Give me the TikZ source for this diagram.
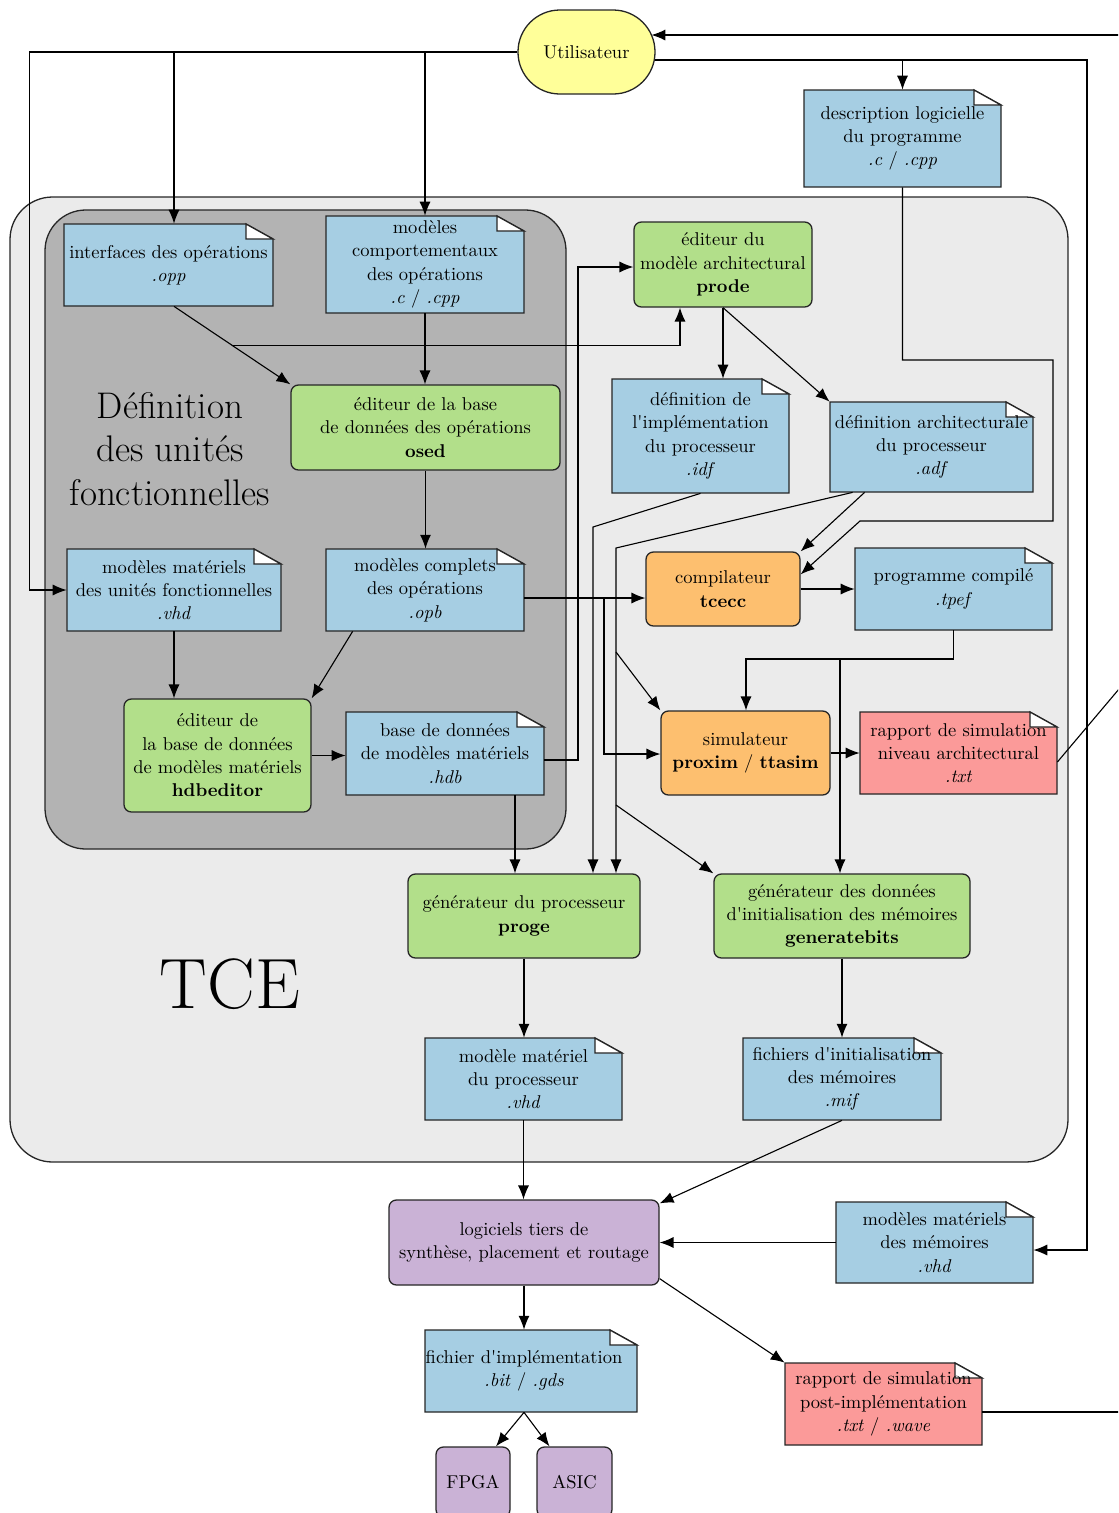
\documentclass[tikz,border=0pt]{standalone}
\usetikzlibrary{arrows.meta}
\def\pu{0.54pt}
\definecolor{cblue}{HTML}{A6CEE3}
\definecolor{cgreen}{HTML}{B2DF8A}
\definecolor{corange}{HTML}{FDBF6F}
\definecolor{cred}{HTML}{FB9A99}
\definecolor{cpurple}{HTML}{CAB2D6}
\definecolor{cyellow}{HTML}{FFFF99}
\definecolor{tcebg}{HTML}{EBEBEB}
\definecolor{defbg}{HTML}{B3B3B3}
% doc shape: x1 y1 x2 y2 colour
\newcommand\docshape[5]{%
  \draw[docb, fill=#5] (#1,#2) -- ({#3-27},#2) -- (#3,{#2+15}) -- (#3,#4) -- (#1,#4) -- cycle;
  \draw[docb, fill=white] ({#3-27},#2) -- ({#3-27},{#2+15}) -- (#3,{#2+15}) -- cycle;}
% name x1 y1 x2 y2 colour text
\newcommand\docnode[7]{%
  \docshape{#2}{#3}{#4}{#5}{#6}
  \node[sz={#4-#2}{#5-#3}] (#1) at ({(#2+#4)/2},{(#3+#5)/2}) {#7};}
\newcommand\toolnode[7]{%
  \node[tool, fill=#6, sz={#4-#2}{#5-#3}] (#1) at ({(#2+#4)/2},{(#3+#5)/2}) {#7};}
\begin{document}
\begin{tikzpicture}[x=0.54pt,y=-0.54pt,
  every node/.style={font=\fontsize{10}{12.6}\selectfont, align=center, inner sep=0pt},
  sz/.style 2 args={minimum width={(#1)*\pu}, minimum height={(#2)*\pu}},
  tool/.style={draw=black!85, line width=0.7pt, rounded corners=4pt},
  docb/.style={draw=black!85, line width=0.7pt, line join=miter},
  cont/.style={draw=black!85, line width=0.7pt},
  arr/.style={draw=black, line width=0.6pt, -{Latex[length=7.5pt,width=6pt]}},
  ln/.style={draw=black, line width=0.6pt}]
\useasboundingbox (0,0) rectangle (1118,1513);
\clip (0,0) rectangle (1118,1513);

% containers
\draw[cont, fill=tcebg, rounded corners=23pt] (10,197) rectangle (1068,1162);
\draw[cont, fill=defbg, rounded corners=22pt] (45,210) rectangle (566,849);
\node[font=\fontsize{20}{23.3}\selectfont] (deft) at (170,449) {Définition\\des unités\\fonctionnelles};
\node[font=\fontsize{38.5}{40}\selectfont] (tce) at (230,984) {TCE};

% user
\node[tool, fill=cyellow, rounded corners=22.6pt, sz={137}{84}] (utl) at (586.5,52) {Utilisateur};

% documents
\docnode{desc}{804}{90}{1001}{187}{cblue}{description logicielle\\du programme\\\textit{.c} / \textit{.cpp}}
\docnode{interf}{64}{224}{273}{306}{cblue}{interfaces des opérations\\\textit{.opp}}
\docnode{comp}{326}{216}{524}{313}{cblue}{modèles\\comportementaux\\des opérations\\\textit{.c} / \textit{.cpp}}
\docnode{mmuf}{67}{549}{281}{631}{cblue}{modèles matériels\\des unités fonctionnelles\\\textit{.vhd}}
\docnode{opb}{326}{549}{524}{631}{cblue}{modèles complets\\des opérations\\\textit{.opb}}
\docnode{hdb}{346}{712}{544}{795}{cblue}{base de données\\de modèles matériels\\\textit{.hdb}}
\docnode{idf}{612}{379}{789}{493}{cblue}{définition de\\l\textquotesingle implémentation\\du processeur\\\textit{.idf}}
\docnode{adf}{830}{402}{1033}{492}{cblue}{définition architecturale\\du processeur\\\textit{.adf}}
\docnode{tpef}{855}{548}{1052}{630}{cblue}{programme compilé\\\textit{.tpef}}
\docnode{rarch}{860}{712}{1057}{794}{cred}{rapport de simulation\\niveau architectural\\\textit{.txt}}
\docnode{mmp}{425}{1038}{622}{1120}{cblue}{modèle matériel\\du processeur\\\textit{.vhd}}
\docnode{mif}{743}{1038}{941}{1120}{cblue}{fichiers d\textquotesingle initialisation\\des mémoires\\\textit{.mif}}
\docnode{mmm}{836}{1202}{1033}{1283}{cblue}{modèles matériels\\des mémoires\\\textit{.vhd}}
\docshape{425}{1330}{637}{1412}{cblue}
\node[sz={198}{82}] (fimp) at (524,1371) {fichier d\textquotesingle implémentation\\\textit{.bit} / \textit{.gds}};
\docnode{rpost}{785}{1363}{982}{1445}{cred}{rapport de simulation\\post-implémentation\\\textit{.txt} / \textit{.wave}}

% tools
\toolnode{osed}{291}{385}{560}{470}{cgreen}{éditeur de la base\\de données des opérations\\\textbf{osed}}
\toolnode{hdbe}{124}{699}{311}{812}{cgreen}{éditeur de\\la base de données\\de modèles matériels\\\textbf{hdbeditor}}
\toolnode{prode}{634}{222}{812}{307}{cgreen}{éditeur du\\modèle architectural\\\textbf{prode}}
\toolnode{tcecc}{646}{552}{800}{626}{corange}{compilateur\\\textbf{tcecc}}
\toolnode{sim}{661}{711}{830}{795}{corange}{simulateur\\\textbf{proxim} / \textbf{ttasim}}
\toolnode{proge}{408}{874}{640}{958}{cgreen}{générateur du processeur\\\textbf{proge}}
\toolnode{genb}{714}{874}{970}{958}{cgreen}{générateur des données\\d\textquotesingle initialisation des mémoires\\\textbf{generatebits}}
\toolnode{logi}{389}{1200}{659}{1285}{cpurple}{logiciels tiers de\\synthèse, placement et routage}
\toolnode{fpga}{436}{1447}{510}{1517}{cpurple}{FPGA}
\toolnode{asic}{537}{1447}{612}{1517}{cpurple}{ASIC}

% coordinates
\coordinate (cL) at (29.5,52);
\coordinate (b1) at (174,52);
\coordinate (b2) at (425,52);
\coordinate (uR) at (654.5,60);
\coordinate (b3) at (902.5,60);
\coordinate (cR) at (1087,60);
\coordinate (cR2) at (1087,1250);
\coordinate (eT) at (1130,35);
\coordinate (uT) at (651.5,35);
\coordinate (k1) at (680,345);
\coordinate (k2) at (578,760);
\coordinate (k3) at (578,267);
\coordinate (k4) at (515,800);
\coordinate (k5) at (593,527);
\coordinate (k6) at (616,548);
\coordinate (k7) at (616,652);
\coordinate (k8) at (616,805);
\coordinate (k9) at (1053,360);
\coordinate (k10) at (1053,521);
\coordinate (k11) at (860,521);
\coordinate (k12) at (604,598);
\coordinate (k13) at (604,754);
\coordinate (k14) at (746,659);
\coordinate (k15) at (840,659);
\coordinate (eR) at (1130,676);
\coordinate (eB) at (1130,1412);

% connectors
\draw[arr] (utl.west) -- (cL) |- (mmuf.west);
\draw[arr] (b1) -- (b1 |- interf.north);
\draw[arr] (b2) -- (b2 |- comp.north);
\draw[arr] (uR) -- (cR) -- (cR2) -- (cR2 -| mmm.east);
\draw[arr] (b3) -- (b3 |- desc.north);
\draw[arr] (eT) -- (uT);

\draw[arr] (b1 |- interf.south) -- coordinate[pos=0.496] (j2) (osed.north west);
\draw[arr] (j2) -- (j2 -| k1) -- (k1 |- prode.south);
\draw[arr] (comp.south) -- (comp.south |- osed.north);
\draw[arr] (osed.south) -- (osed.south |- opb.north);
\draw[arr] (mmuf.south) -- (mmuf.south |- hdbe.north);
\draw[arr] ([xshift=27*\pu]opb.south west) -- (hdbe.north east);
\draw[arr] (hdbe.east) -- (hdbe.east -| hdb.west);
\draw[arr] (k2 -| hdb.east) -- (k2) -- (k3) -- (k3 -| prode.west);
\draw[arr] (hdb.south -| k4) -- (k4 |- proge.north);
\draw[arr] (prode.south) -- (prode.south |- idf.north);
\draw[arr] (prode.south) -- (adf.north west);
\draw[arr] (idf.south) -- (k5) -- (k5 |- proge.north);
\draw[arr] ([xshift=23*\pu]adf.south west) -- (k6) -- (k6 |- proge.north);
\draw[arr] (k7) -- (sim.north west);
\draw[arr] (k8) -- (genb.north west);
\draw[arr] ([xshift=35*\pu]adf.south west) -- (tcecc.north east);
\draw[arr] (desc.south) -- (desc.south |- k9) -- (k9) -- (k10) -- (k11) -- ([yshift=-23*\pu]tcecc.north east);
\draw[arr] (k12 -| opb.east) -- (k12 -| tcecc.west);
\draw[arr] (k12) -- (k13) -- (k13 -| sim.west);
\draw[arr] (tcecc.east) -- (tcecc.east -| tpef.west);
\draw[arr] (tpef.south) -- (tpef.south |- k14) -- (k14) -- (k14 |- sim.north);
\draw[arr] (k15) -- (k15 |- genb.north);
\draw[arr] (sim.east) -- (sim.east -| rarch.west);
\draw[ln] ([yshift=-9*\pu]rarch.east) -- (eR);
\draw[arr] (proge.south) -- (proge.south |- mmp.north);
\draw[arr] (genb.south) -- (genb.south |- mif.north);
\draw[arr] (mmp.south) -- (mmp.south |- logi.north);
\draw[arr] (mif.south) -- ([yshift=-4*\pu]logi.north east);
\draw[arr] (mmm.west) -- (mmm.west -| logi.east);
\draw[arr] (logi.south) -- (fimp.north);
\draw[arr] ([yshift=7*\pu]logi.south east) -- (rpost.north west);
\draw[arr] (fimp.south) -- ([xshift=23*\pu]fpga.north);
\draw[arr] (fimp.south) -- ([xshift=-25*\pu]asic.north);
\draw[ln] ([yshift=-8*\pu]rpost.east) -- (eB);
\end{tikzpicture}
\end{document}
